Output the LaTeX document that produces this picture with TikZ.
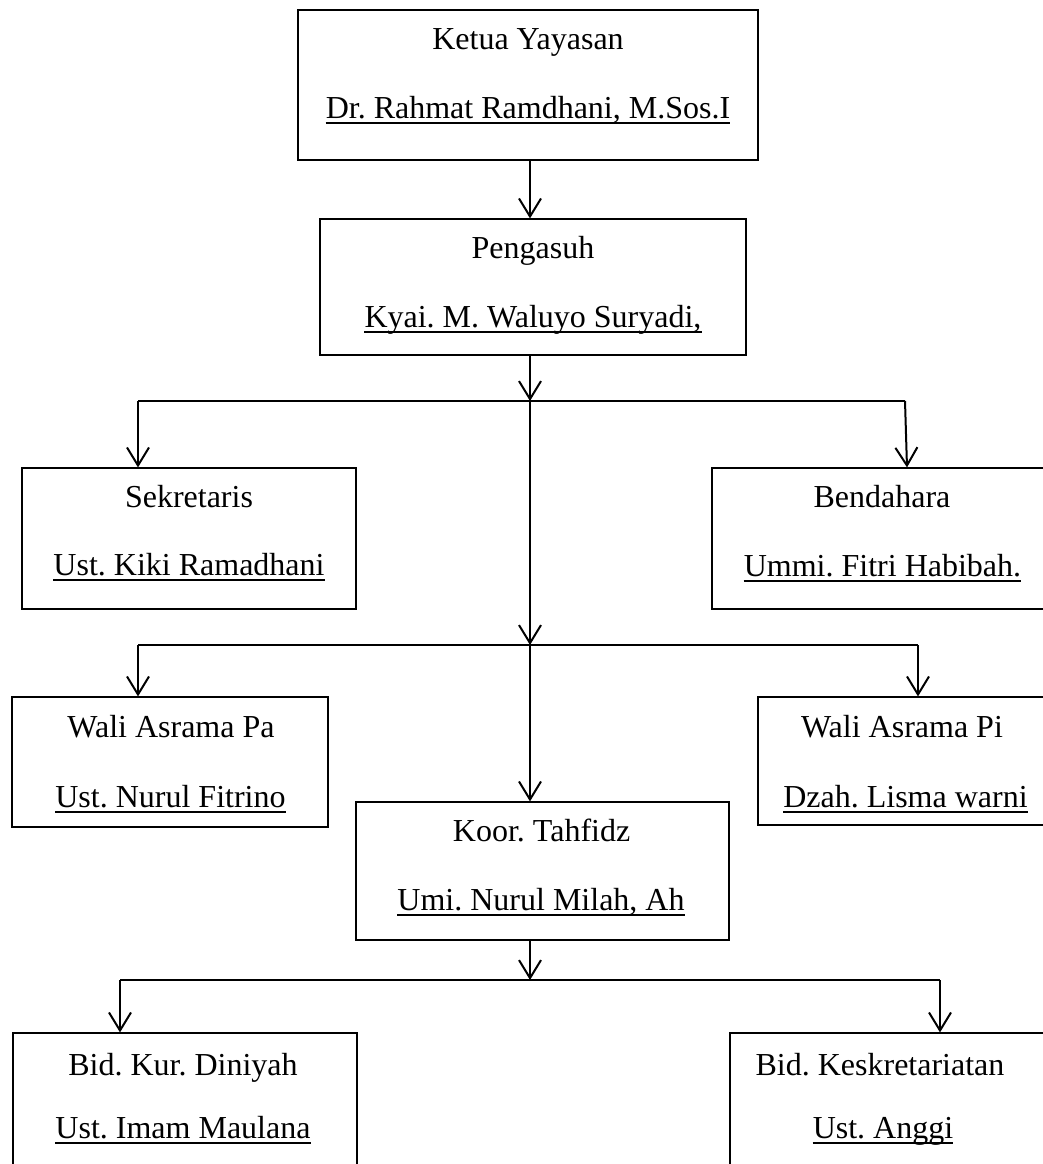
\documentclass[tikz,border=0pt]{standalone}
\usepackage{fontspec}
\setmainfont{Liberation Serif}
\usetikzlibrary{arrows.meta}
\frenchspacing
\tikzset{
  box/.style={draw, rectangle, line width=1.2pt, inner sep=0pt},
  lbl/.style={inner sep=0pt, anchor=base, font=\fontsize{32}{38}\selectfont\frenchspacing},
  conn/.style={line width=2pt},
  arr/.style={conn, -{Straight Barb[length=18pt,width=22pt]}},
  uline/.style={line width=1.6pt}
}
\begin{document}
\begin{tikzpicture}[x=1pt,y=-1pt]
\useasboundingbox (0,0) rectangle (1043,1164);
\clip (0,0) rectangle (1043,1164);
\fill[white] (0,0) rectangle (1043,1164);

% boxes
\node[box, minimum width=460pt, minimum height=150pt] (ketua) at (528,85) {};
\node[box, minimum width=426pt, minimum height=136pt] (peng) at (533,287) {};
\node[box, minimum width=334pt, minimum height=141pt] (sek) at (189,538.5) {};
\node[box, minimum width=340pt, minimum height=141pt] (bend) at (882,538.5) {};
\node[box, minimum width=316pt, minimum height=130pt] (walipa) at (170,762) {};
\node[box, minimum width=290pt, minimum height=128pt] (walipi) at (903,761) {};
\node[box, minimum width=373pt, minimum height=138pt] (koor) at (542.5,871) {};
\node[box, minimum width=344pt, minimum height=147pt] (bidkur) at (185,1106.5) {};
\node[box, minimum width=320pt, minimum height=147pt] (bidkes) at (890,1106.5) {};

% texts
\node[lbl] (ketuaA) at (528,50) {Ketua Yayasan};
\node[lbl] (ketuaB) at (528,118) {Dr. Rahmat Ramdhani, M.Sos.I};
\node[lbl] (pengA) at (533,258) {Pengasuh};
\node[lbl] (pengB) at (533,327) {Kyai. M. Waluyo Suryadi,};
\node[lbl] (sekA) at (189,507) {Sekretaris};
\node[lbl] (sekB) at (189,575) {Ust. Kiki Ramadhani};
\node[lbl] (bendA) at (882,507) {Bendahara};
\node[lbl] (bendB) at (882.5,576) {Ummi. Fitri Habibah.};
\node[lbl] (walipaA) at (171,737) {Wali Asrama Pa};
\node[lbl] (walipaB) at (170.5,807) {Ust. Nurul Fitrino};
\node[lbl] (walipiA) at (902,737) {Wali Asrama Pi};
\node[lbl] (walipiB) at (905.5,807) {Dzah. Lisma warni};
\node[lbl] (koorA) at (541.6,841) {Koor. Tahfidz};
\node[lbl] (koorB) at (541,910) {Umi. Nurul Milah, Ah};
\node[lbl] (bidkurA) at (183,1075) {Bid. Kur. Diniyah};
\node[lbl] (bidkurB) at (183,1138) {Ust. Imam Maulana};
\node[lbl] (bidkesA) at (880,1075) {Bid. Keskretariatan};
\node[lbl] (bidkesB) at (883,1138) {Ust. Anggi};

% underlines
\foreach \n in {ketuaB,pengB,sekB,bendB,walipaB,walipiB,koorB,bidkurB,bidkesB}
  \draw[uline] ([yshift=-5pt]\n.base west) -- ([yshift=-5pt]\n.base east);

% junction coordinates
\coordinate (spine) at (530,0);
\coordinate (j1) at (530,401);
\coordinate (j1l) at (138,401);
\coordinate (j1r) at (905,401);
\coordinate (j2) at (530,645);
\coordinate (j2l) at (138,645);
\coordinate (j2r) at (918,645);
\coordinate (j3) at (530,980);
\coordinate (j3l) at (120,980);
\coordinate (j3r) at (940,980);

% connectors
\draw[arr] (ketua.south -| spine) -- (peng.north -| spine);
\draw[arr] (peng.south -| spine) -- (j1);
\draw[conn] (j1l) -- (j1r);
\draw[arr] (j1l) -- (sek.north -| j1l);
\draw[arr] (j1r) -- ([xshift=2pt]bend.north -| j1r);
\draw[arr] (j1) -- (j2);
\draw[conn] (j2l) -- (j2r);
\draw[arr] (j2l) -- (walipa.north -| j2l);
\draw[arr] (j2r) -- (walipi.north -| j2r);
\draw[arr] (j2) -- (koor.north -| j2);
\draw[arr] (koor.south -| spine) -- (j3);
\draw[conn] (j3l) -- (j3r);
\draw[arr] (j3l) -- (bidkur.north -| j3l);
\draw[arr] (j3r) -- (bidkes.north -| j3r);
\end{tikzpicture}
\end{document}
